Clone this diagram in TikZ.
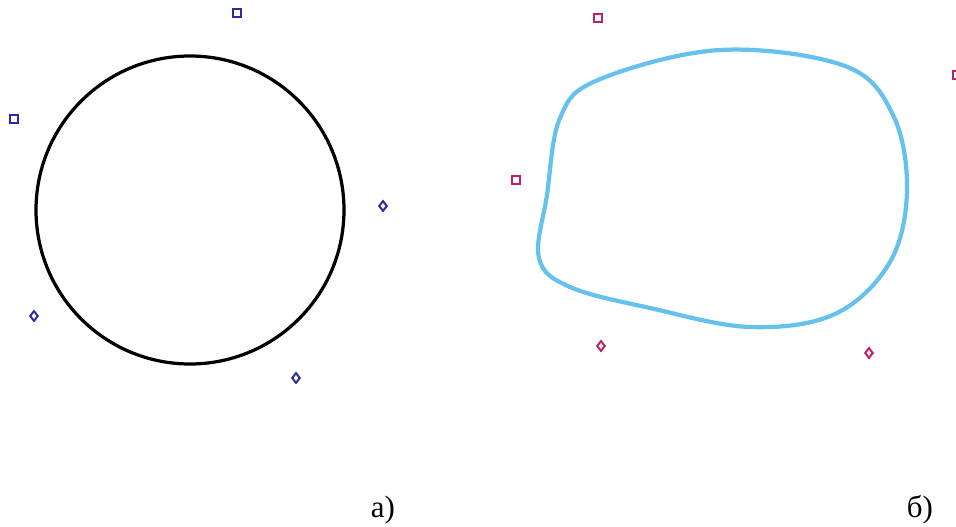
\documentclass[tikz,border=0pt]{standalone}
\usepackage{fontspec}
\setmainfont{Liberation Serif}
\usepackage{xcolor}
\usetikzlibrary{shapes.geometric}
\definecolor{ptblue}{HTML}{2B2BA0}
\definecolor{ptred}{HTML}{C0206A}
\definecolor{curve}{HTML}{66C2EC}
\tikzset{
  sqmark/.style={rectangle, draw, line width=1.3pt, inner sep=0pt, minimum size=5.5pt},
  dmmark/.style={diamond, draw, line width=1.4pt, inner sep=0pt, minimum width=6pt, minimum height=7.5pt},
  caption/.style={font=\fontsize{22}{26}\selectfont, inner sep=0pt}
}

\begin{document}
\begin{tikzpicture}[x=0.025cm,y=-0.025cm]
\useasboundingbox (0,0) rectangle (956,527);

% a) circle and its points
\draw[line width=2.3pt, black] (190,210) circle[radius=154];
\node[sqmark, draw=ptblue] (a1) at (237,13) {};
\node[sqmark, draw=ptblue] (a2) at (14,119) {};
\node[dmmark, draw=ptblue] (a3) at (383,206) {};
\node[dmmark, draw=ptblue] (a4) at (34,316) {};
\node[dmmark, draw=ptblue] (a5) at (296,378) {};
\node[caption] (capa) at (383,510) {а)};

% b) deformed contour and its points
\draw[line width=3pt, curve] plot[smooth cycle, tension=0.6] coordinates {
  (598,80) (720,50) (845,66) (893,115) (907,190) (890,262)
  (835,314) (750,327) (650,308) (570,287) (539,258) (547,195) (560,118)};
\node[sqmark, draw=ptred] (b1) at (598,18) {};
\node[sqmark, draw=ptred] (b2) at (957,75) {};
\node[sqmark, draw=ptred] (b3) at (516,180) {};
\node[dmmark, draw=ptred] (b4) at (601,346) {};
\node[dmmark, draw=ptred] (b5) at (869,353) {};
\node[caption] (capb) at (920,510) {б)};
\end{tikzpicture}
\end{document}
